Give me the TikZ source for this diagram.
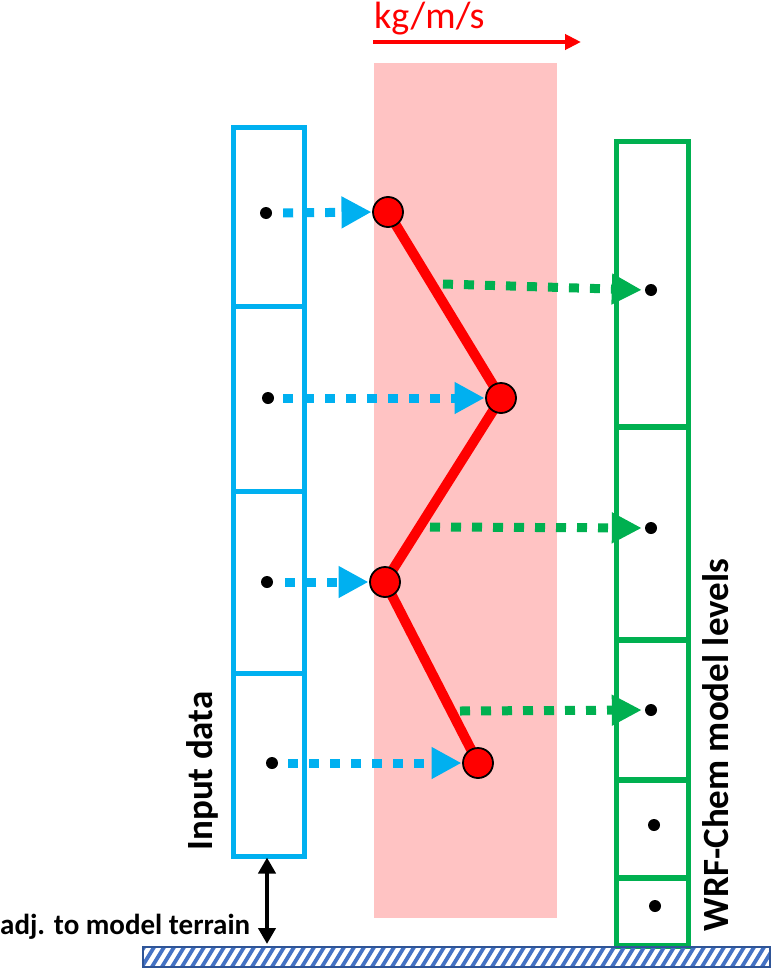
\documentclass[tikz,border=0pt]{standalone}
\usepackage{fontspec}
\setmainfont{Carlito}
\usetikzlibrary{arrows.meta}
\definecolor{cblue}{HTML}{00B0F0}
\definecolor{cgreen}{HTML}{00B050}
\definecolor{cpink}{HTML}{FFC3C3}
\definecolor{cred}{HTML}{FF0000}
\definecolor{hatchbd}{HTML}{2F5597}
\definecolor{hatchln}{HTML}{4472C4}
\tikzset{
  bcell/.style={draw=cblue, line width=5pt, minimum width=71pt, inner sep=0pt, rectangle},
  gcell/.style={draw=cgreen, line width=5.5pt, minimum width=72pt, inner sep=0pt, rectangle},
  blackdot/.style={circle, fill=black, minimum size=12pt, inner sep=0pt},
  redpt/.style={circle, fill=cred, draw=black, line width=1.8pt, minimum size=30pt, inner sep=0pt},
  bluearr/.style={draw=cblue, line width=9pt, dash pattern=on 10pt off 11pt, -{Triangle[length=30pt,width=30pt]}},
  greenarr/.style={draw=cgreen, line width=9pt, dash pattern=on 10pt off 11pt, -{Triangle[length=30pt,width=29pt]}},
  redline/.style={draw=cred, line width=10pt},
  lbl/.style={inner sep=0pt, font=\bfseries\fontsize{37}{40}\selectfont}
}
\begin{document}
\begin{tikzpicture}[x=1pt,y=-1pt]
\useasboundingbox (0,0) rectangle (771,969);
% pink band
\fill[cpink] (374,63) rectangle (557,918);
% unit arrow
\node[anchor=base west, inner sep=0pt, text=cred, font=\fontsize{38}{40}\selectfont] (unit) at (374,28) {kg/m/s};
\coordinate (ka) at (373,42);
\coordinate (kb) at (581,42);
\draw[cred, line width=4.5pt, -{Triangle[length=16pt,width=15pt]}] (ka) -- (kb);
% columns
\node[bcell, minimum height=179pt] (b1) at (268.5,216.5) {};
\node[bcell, minimum height=185pt] (b2) at (268.5,398.5) {};
\node[bcell, minimum height=182pt] (b3) at (268.5,582) {};
\node[bcell, minimum height=183pt] (b4) at (268.5,764.5) {};
\node[gcell, minimum height=285.5pt] (g1) at (652.5,284.25) {};
\node[gcell, minimum height=213pt] (g2) at (652.5,533.5) {};
\node[gcell, minimum height=140pt] (g3) at (652.5,710) {};
\node[gcell, minimum height=98pt] (g4) at (652.5,829) {};
\node[gcell, minimum height=68pt] (g5) at (652.5,912) {};
% dots
\node[blackdot] (bd1) at (266,213) {};
\node[blackdot] (bd2) at (268,398) {};
\node[blackdot] (bd3) at (267,582) {};
\node[blackdot] (bd4) at (272,763) {};
\node[blackdot] (gd1) at (651,290) {};
\node[blackdot] (gd2) at (651,528) {};
\node[blackdot] (gd3) at (651,710) {};
\node[blackdot] (gd4) at (654,825) {};
\node[blackdot] (gd5) at (655,906) {};
% red profile
\coordinate (p1) at (388,212);
\coordinate (p2) at (501,398);
\coordinate (p3) at (385,582);
\coordinate (p4) at (478,763);
\draw[redline] (p1) -- (p2) -- (p3) -- (p4);
% blue arrows
\draw[bluearr, shorten >=2pt] ([xshift=11pt]bd1.east) -- ([xshift=-14.5pt]p1);
\draw[bluearr, shorten >=2pt] ([xshift=9pt]bd2.east) -- ([xshift=-14.5pt]p2);
\draw[bluearr, shorten >=2pt] ([xshift=12pt]bd3.east) -- ([xshift=-14.5pt]p3);
\draw[bluearr, shorten >=2pt] ([xshift=10pt]bd4.east) -- ([xshift=-14.5pt]p4);
% green arrows
\coordinate (s1) at (443,284);
\coordinate (s2) at (430,527);
\coordinate (s3) at (460,711);
\draw[greenarr, shorten >=3pt] (s1) -- (gd1.west);
\draw[greenarr, shorten >=3pt] (s2) -- (gd2.west);
\draw[greenarr, shorten >=3pt] (s3) -- (gd3.west);
% red points
\node[redpt] (r1) at (p1) {};
\node[redpt] (r2) at (p2) {};
\node[redpt] (r3) at (p3) {};
\node[redpt] (r4) at (p4) {};
% ground
\begin{scope}
\clip (143,947) rectangle (770,967);
\foreach \i in {120,130,...,780}{
  \draw[hatchln, line width=3.8pt] (\i,970) -- (\i+16,944);
}
\end{scope}
\draw[hatchbd, line width=2pt] (143,947) rectangle (770,967);
\coordinate (gnd) at (267,944);
% offset arrow
\draw[black, line width=4.5pt, {Triangle[length=16pt,width=17pt]}-{Triangle[length=16pt,width=17pt]}] ([yshift=1pt]b4.south -| gnd) -- (gnd);
% labels
\node[lbl, rotate=90] (inp) at (202,771) {Input data};
\node[lbl, rotate=90] (wrf) at (716,745) {WRF-Chem model levels};
\node[anchor=base west, inner sep=0pt, font=\bfseries\fontsize{29}{31}\selectfont] (adj) at (0,934) {adj. to model terrain};
\end{tikzpicture}
\end{document}
